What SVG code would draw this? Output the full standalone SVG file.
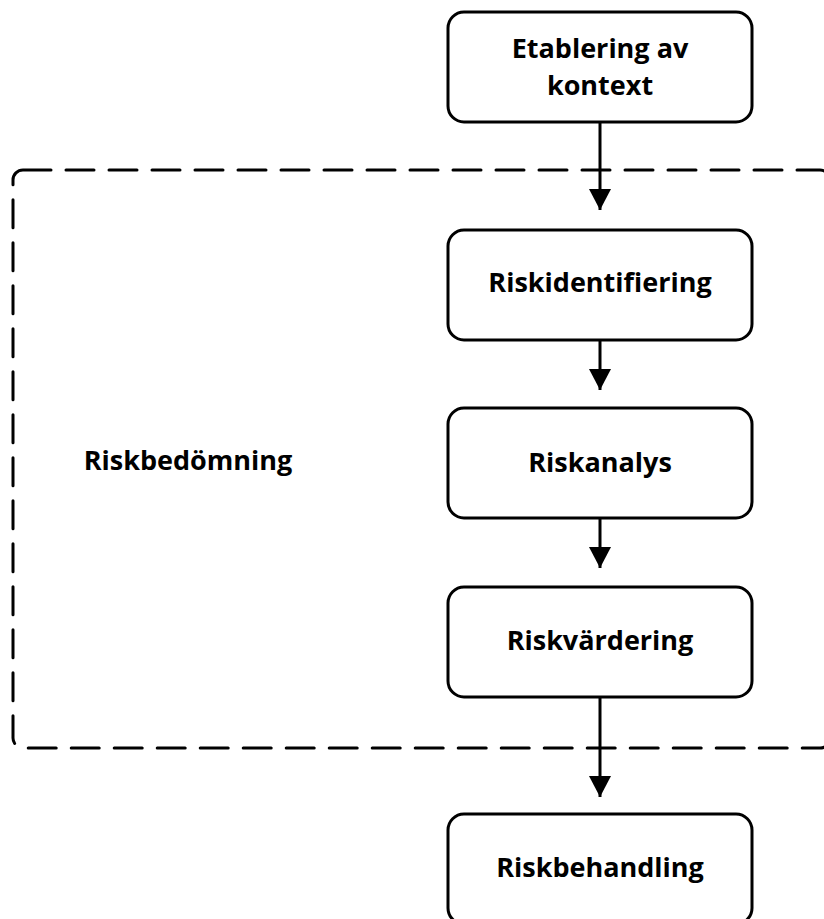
<svg xmlns="http://www.w3.org/2000/svg" width="824" height="919" viewBox="0 0 824 919">
<style>
.box{fill:#fff;stroke:#000;stroke-width:3}
.lbl{font-family:"Open Sans","Noto Sans","Liberation Sans",sans-serif;font-weight:bold;font-size:27px;fill:#000;text-anchor:middle}
.grp{fill:none;stroke:#000;stroke-width:3;stroke-dasharray:28 15;stroke-linecap:round}
.edge{stroke:#000;stroke-width:3;fill:none}
</style>
<defs>
<marker id="ah" markerUnits="userSpaceOnUse" markerWidth="22" markerHeight="22" refX="21" refY="11" orient="auto" viewBox="0 0 22 22">
<path d="M0,0 L21,11 L0,22 Z" fill="#000"/>
</marker>
</defs>
<g id="group-riskbedomning">
<rect class="grp" x="13" y="170" width="817" height="578" rx="10"/>
<text class="lbl" x="188" y="470">Riskbedömning</text>
</g>
<g id="connectors">
<line class="edge" x1="600" y1="122" x2="600" y2="210" marker-end="url(#ah)"/>
<line class="edge" x1="600" y1="340" x2="600" y2="390" marker-end="url(#ah)"/>
<line class="edge" x1="600" y1="518" x2="600" y2="568" marker-end="url(#ah)"/>
<line class="edge" x1="600" y1="697" x2="600" y2="797" marker-end="url(#ah)"/>
</g>
<g id="etablering">
<rect class="box" x="448" y="12" width="304" height="110" rx="16"/>
<text class="lbl" x="600" y="58"><tspan x="600" y="58">Etablering av</tspan><tspan x="600" y="95">kontext</tspan></text>
</g>
<g id="riskidentifiering">
<rect class="box" x="448" y="230" width="304" height="110" rx="16"/>
<text class="lbl" x="600" y="292">Riskidentifiering</text>
</g>
<g id="riskanalys">
<rect class="box" x="448" y="408" width="304" height="110" rx="16"/>
<text class="lbl" x="600" y="472">Riskanalys</text>
</g>
<g id="riskvardering">
<rect class="box" x="448" y="587" width="304" height="110" rx="16"/>
<text class="lbl" x="600" y="650">Riskvärdering</text>
</g>
<g id="riskbehandling">
<rect class="box" x="448" y="814" width="304" height="110" rx="16"/>
<text class="lbl" x="600" y="877">Riskbehandling</text>
</g>
</svg>
